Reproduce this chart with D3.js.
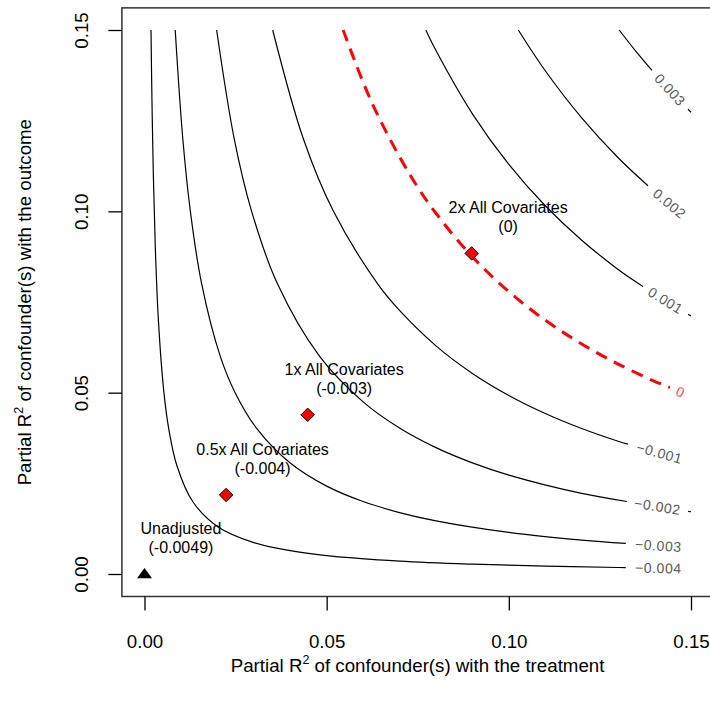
<!DOCTYPE html>
<html>
<head>
<meta charset="utf-8">
<script src="https://cdn.jsdelivr.net/npm/d3@7"></script>
<style>
  body { margin: 0; background: #fff; }
  svg text { font-family: "Liberation Sans", Arial, sans-serif; }
</style>
</head>
<body>
<script>
// contour levels of the adjusted estimate
var levels = [-0.004, -0.003, -0.002, -0.001, 0, 0.001, 0.002, 0.003];

// points: [r2 with treatment, r2 with outcome]
var contour0 = [[0.001784, 0.15], [0.002057, 0.13], [0.00243, 0.11], [0.002969, 0.09], [0.003814, 0.07],
    [0.005331, 0.05], [0.006655, 0.04], [0.008854, 0.03], [0.013223, 0.02], [0.02, 0.01313], [0.03, 0.008665],
    [0.04, 0.006432], [0.05, 0.005092], [0.07, 0.003561], [0.09, 0.00271], [0.11, 0.002168], [0.13, 0.001794],
    [0.15, 0.001519]];
var contour1 = [[0.008429, 0.15], [0.010513, 0.12], [0.01259, 0.10], [0.015687, 0.08], [0.020808, 0.06],
    [0.024866, 0.05], [0.03089, 0.04], [0.04, 0.0306], [0.05, 0.024225], [0.06, 0.019975], [0.07, 0.016939],
    [0.08, 0.014663], [0.10, 0.011475], [0.12, 0.00935], [0.14, 0.007832], [0.15, 0.007225]];
var contour2 = [[0.0198, 0.15], [0.024628, 0.12], [0.029409, 0.10], [0.036493, 0.08], [0.048072, 0.06],
    [0.06, 0.04747], [0.07, 0.04026], [0.08, 0.034845], [0.09, 0.030637], [0.10, 0.02727], [0.12, 0.02222],
    [0.14, 0.018613], [0.15, 0.01717]];
var contour3 = [[0.035184, 0.15], [0.043596, 0.12], [0.051863, 0.10], [0.064, 0.08], [0.07, 0.07267],
    [0.08, 0.062905], [0.09, 0.055308], [0.10, 0.04923], [0.11, 0.044257], [0.12, 0.040113], [0.13, 0.036607],
    [0.14, 0.033601], [0.15, 0.030997]];
var contour4 = [[0.054523, 0.15], [0.062387, 0.13], [0.072904, 0.11], [0.08, 0.099475], [0.09, 0.087461],
    [0.10, 0.07785], [0.11, 0.069986], [0.12, 0.063433], [0.13, 0.057888], [0.14, 0.053136], [0.15, 0.049017]];
var contour5 = [[0.077207, 0.15], [0.08, 0.14433], [0.09, 0.12689], [0.10, 0.11295], [0.11, 0.10154],
    [0.12, 0.092033], [0.13, 0.083988], [0.14, 0.077093], [0.15, 0.071117]];
var contour6 = [[0.102603, 0.15], [0.11, 0.13876], [0.12, 0.12577], [0.13, 0.114773], [0.14, 0.10535],
    [0.15, 0.097183]];
var contour7 = [[0.130284, 0.15], [0.135, 0.14397], [0.14, 0.13803], [0.145, 0.1325], [0.15, 0.12733]];
var contours = [contour0, contour1, contour2, contour3, contour4, contour5, contour6, contour7];

// where each contour line is broken for its label (r2 with treatment)
var labelFrom = [0.1321, 0.1321, 0.1324, 0.1327, 0.1442, 0.1368, 0.1382, 0.1393];
var labelTo = [0.15, 0.15, 0.1492, 0.15, 0.15, 0.1492, 0.15, 0.1492];

// benchmark bounds
var benchNames = ["0.5x All Covariates", "1x All Covariates", "2x All Covariates"];
var benchR2dz = [0.0224, 0.0448, 0.0898];
var benchR2yz = [0.0218, 0.0439, 0.0884];
var benchEst = ["-0.004", "-0.003", "0"];

var unadjName = "Unadjusted";
var unadjEst = "-0.0049";

var ticks = [0, 0.05, 0.10, 0.15];

var width = 710, height = 709;

var x = d3.scaleLinear().domain([0, 0.15]).range([144.5, 691]);
var y = d3.scaleLinear().domain([0, 0.15]).range([574, 30]);
var lo = -0.0062, hi = 0.1561;

var svg = d3.select("body").append("svg")
    .attr("width", width)
    .attr("height", height);

svg.append("rect").attr("width", width).attr("height", height).attr("fill", "#fff");

svg.append("clipPath").attr("id", "plotClip")
  .append("rect")
    .attr("x", x(lo)).attr("y", y(hi))
    .attr("width", x(hi) - x(lo)).attr("height", y(lo) - y(hi));

var plot = svg.append("g").attr("clip-path", "url(#plotClip)");

var line = d3.line()
    .x(function (d) { return x(d[0]); })
    .y(function (d) { return y(d[1]); })
    .curve(d3.curveCatmullRom);

function yAt(pts, xv) {
    for (var i = 0; i < pts.length - 1; i++) {
        if (xv >= pts[i][0] && xv <= pts[i + 1][0]) {
            var t = (xv - pts[i][0]) / (pts[i + 1][0] - pts[i][0]);
            return pts[i][1] + t * (pts[i + 1][1] - pts[i][1]);
        }
    }
    return pts[pts.length - 1][1];
}

//Draw contours with a gap for the label
levels.forEach(function (lev, i) {
    var pts = contours[i];
    var a = labelFrom[i], b = labelTo[i];
    var head = pts.filter(function (p) { return p[0] < a; }).concat([[a, yAt(pts, a)]]);
    var isZero = lev === 0;

    var path = plot.append("path")
        .attr("d", line(head))
        .attr("fill", "none")
        .attr("stroke", isZero ? "#ff0000" : "#000")
        .attr("stroke-width", isZero ? 3 : 1.2);
    if (isZero) path.attr("stroke-dasharray", "12,8");

    if (b < 0.15) {
        plot.append("path")
            .attr("d", line([[b, yAt(pts, b)], [0.15, yAt(pts, 0.15)]]))
            .attr("fill", "none")
            .attr("stroke", "#000")
            .attr("stroke-width", 1.2);
    }

    var x0 = x(a), y0 = y(yAt(pts, a));
    var x1 = x(b), y1 = y(yAt(pts, b));
    var ang = Math.atan2(y1 - y0, x1 - x0) * 180 / Math.PI;
    var txt = lev === 0 ? "0" : (lev < 0 ? "\u2212" : "") + d3.format(".3f")(Math.abs(lev));
    svg.append("text")
        .attr("transform", "translate(" + ((x0 + x1) / 2) + "," + ((y0 + y1) / 2) + ") rotate(" + ang + ")")
        .attr("text-anchor", "middle")
        .attr("dominant-baseline", "central")
        .attr("font-size", 14)
        .attr("letter-spacing", 0.6)
        .attr("fill", isZero ? "#ff4d4d" : "#5a5a5a")
        .text(txt);
});

//Plot box
svg.append("rect")
    .attr("x", x(lo)).attr("y", y(hi))
    .attr("width", x(hi) - x(lo)).attr("height", y(lo) - y(hi))
    .attr("fill", "none")
    .attr("stroke", "#333")
    .attr("stroke-width", 1.5);

//Axes
var xAxis = svg.append("g")
    .attr("transform", "translate(0," + y(lo) + ")")
    .call(d3.axisBottom(x).tickValues(ticks).tickFormat(d3.format(".2f")).tickSize(14).tickPadding(24));
var yAxis = svg.append("g")
    .attr("transform", "translate(" + x(lo) + ",0)")
    .call(d3.axisLeft(y).tickValues(ticks).tickFormat(d3.format(".2f")).tickSize(13.5));

[xAxis, yAxis].forEach(function (g) {
    g.select(".domain").remove();
    g.selectAll(".tick line").attr("stroke", "#000").attr("stroke-width", 1.3);
    g.selectAll(".tick text")
        .attr("font-family", "Liberation Sans, Arial, sans-serif")
        .attr("font-size", 18.7)
        .attr("fill", "#000");
});

yAxis.selectAll(".tick text")
    .attr("x", null)
    .attr("dy", null)
    .attr("text-anchor", "middle")
    .attr("transform", "translate(" + (88.4 - x(lo)) + ",0) rotate(-90)");

//Axis titles
function addTitle(g, rest) {
    g.append("tspan").text("Partial R");
    g.append("tspan").attr("font-size", 12.5).attr("dy", -8).text("2");
    g.append("tspan").attr("dy", 8).text(" " + rest);
}

var xTitle = svg.append("text")
    .attr("x", (x(lo) + x(hi)) / 2)
    .attr("y", 672)
    .attr("text-anchor", "middle")
    .attr("font-size", 18.7);
addTitle(xTitle, "of confounder(s) with the treatment");

var yTitle = svg.append("text")
    .attr("transform", "translate(31," + ((y(lo) + y(hi)) / 2) + ") rotate(-90)")
    .attr("text-anchor", "middle")
    .attr("font-size", 18.7);
addTitle(yTitle, "of confounder(s) with the outcome");

//Benchmark points
var bumpX = 0.01, bumpY = 0.01;

benchNames.forEach(function (name, i) {
    var px = x(benchR2dz[i]), py = y(benchR2yz[i]);
    svg.append("path")
        .attr("d", "M0,-6.7L6.7,0L0,6.7L-6.7,0Z")
        .attr("transform", "translate(" + px + "," + py + ")")
        .attr("fill", "#ff0000")
        .attr("stroke", "#000")
        .attr("stroke-width", 1);
    addPointLabel(benchR2dz[i], benchR2yz[i], name, "(" + benchEst[i] + ")");
});

svg.append("path")
    .attr("d", "M0,-6L7.5,4.3L-7.5,4.3Z")
    .attr("transform", "translate(" + x(0) + "," + y(0) + ")")
    .attr("fill", "#000");
addPointLabel(0, 0, unadjName, "(" + unadjEst + ")");

function addPointLabel(dx, dy, line1, line2) {
    var cx = x(dx + bumpX), cy = y(dy + bumpY);
    var t = svg.append("text")
        .attr("text-anchor", "middle")
        .attr("font-size", 16)
        .attr("fill", "#000");
    t.append("tspan").attr("x", cx).attr("y", cy - 4).text(line1);
    t.append("tspan").attr("x", cx).attr("y", cy + 15).text(line2);
}
</script>
</body>
</html>
